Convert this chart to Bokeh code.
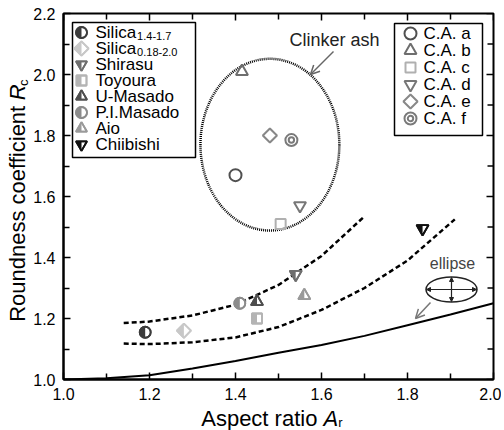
import math
from bokeh.plotting import figure
from bokeh.layouts import row, column
from bokeh.models import (Range1d, FixedTicker, NumeralTickFormatter, Arrow, OpenHead, NormalHead)
from bokeh.core.properties import value
from bokeh.embed import file_html
from bokeh.resources import INLINE

FONT = "Liberation Sans"

# ---------------- data ----------------
x_ticks = [1.0, 1.2, 1.4, 1.6, 1.8, 2.0]
x_minor = [1.1, 1.3, 1.5, 1.7, 1.9]
x_tick_labels = ["1.0", "1.2", "1.4", "1.6", "1.8", "2.0"]
y_ticks = [1.0, 1.2, 1.4, 1.6, 1.8, 2.0, 2.2]
y_minor = [1.1, 1.3, 1.5, 1.7, 1.9, 2.1]
y_tick_labels = ["1.0", "1.2", "1.4", "1.6", "1.8", "2.0", "2.2"]

sample_names = ["Silica", "Silica", "Shirasu", "Toyoura", "U-Masado", "P.I.Masado", "Aio", "Chiibishi"]
sample_subscripts = ["1.4-1.7", "0.18-2.0", "", "", "", "", "", ""]
sample_ar = [1.19, 1.28, 1.54, 1.45, 1.45, 1.41, 1.56, 1.835]
sample_rc = [1.155, 1.16, 1.345, 1.20, 1.255, 1.25, 1.275, 1.495]

ca_names = ["C.A. a", "C.A. b", "C.A. c", "C.A. d", "C.A. e", "C.A. f"]
ca_ar = [1.40, 1.415, 1.505, 1.55, 1.48, 1.53]
ca_rc = [1.67, 2.01, 1.51, 1.57, 1.80, 1.785]

ellipse_ar = [1.0, 1.1, 1.2, 1.3, 1.4, 1.5, 1.6, 1.7, 1.8, 1.9, 2.0]
ellipse_rc = [1.0, 1.004, 1.014, 1.036, 1.061, 1.088, 1.113, 1.143, 1.178, 1.213, 1.25]

upper_ar = [1.14, 1.2, 1.3, 1.4, 1.5, 1.6, 1.7]
upper_rc = [1.185, 1.19, 1.21, 1.245, 1.31, 1.405, 1.535]
lower_ar = [1.14, 1.2, 1.3, 1.4, 1.5, 1.6, 1.7, 1.8, 1.91]
lower_rc = [1.118, 1.116, 1.122, 1.138, 1.172, 1.228, 1.30, 1.39, 1.525]

clinker_center = [1.48, 1.77]
clinker_size = [0.323, 0.563]

x_title = ["Aspect ratio", "A", "r"]
y_title = ["Roundness coefficient", "R", "c"]

# ---------------- styles ----------------
sample_markers = ["circle", "diamond", "inverted_triangle", "square", "triangle", "circle", "triangle", "inverted_triangle"]
sample_colors = ["#3c3c3c", "#c8c8c8", "#6e6e6e", "#b4b4b4", "#4e4e4e", "#8c8c8c", "#9a9a9a", "#111111"]
sample_sizes = [11, 10, 12, 10, 12, 11, 12, 12]
ca_markers = ["circle", "triangle", "square", "inverted_triangle", "diamond", "circle"]
ca_colors = ["#505050", "#6e6e6e", "#b0b0b0", "#777777", "#888888", "#7a7a7a"]
ca_sizes = [12, 12, 10, 12, 10, 12]

X0, X1, Y0, Y1 = 1.0, 2.0, 1.0, 2.2
FRAME_W, FRAME_H = 430, 366
YT_W = 30                     # width of the y-title strip
B_LEFT, B_TOP, B_RIGHT, B_BOTTOM = 31, 13, 8, 26
LEFT, TOP = YT_W + B_LEFT, B_TOP          # frame origin on the page
MAIN_W = B_LEFT + FRAME_W + B_RIGHT
MAIN_H = B_TOP + FRAME_H + B_BOTTOM
TOTAL_W = YT_W + MAIN_W
XT_H = 430 - MAIN_H
PX_X = (X1 - X0) / FRAME_W
PX_Y = (Y1 - Y0) / FRAME_H


def xd(page_x):
    return X0 + (page_x - LEFT) * PX_X


def yd(page_y):
    return Y1 - (page_y - TOP) * PX_Y


W = {'A': 667, 'R': 722, 'C': 722, 'S': 667, 'a': 556, 'c': 500, 'd': 556, 'e': 556,
     'f': 278, 'i': 222, 'l': 222, 'n': 556, 'o': 556, 'p': 556, 'r': 333, 's': 500,
     't': 278, 'u': 556, ' ': 278, '.': 278, '-': 333}


def tw(s, size):
    return sum(W.get(ch, 556) for ch in s) * size / 1000.0


p = figure(frame_width=FRAME_W, frame_height=FRAME_H,
           x_range=Range1d(X0, X1), y_range=Range1d(Y0, Y1),
           output_backend="svg", toolbar_location=None,
           min_border_left=B_LEFT, min_border_top=B_TOP, min_border_right=B_RIGHT,
           min_border_bottom=B_BOTTOM)
p.xgrid.visible = False
p.ygrid.visible = False
p.outline_line_color = "black"
p.outline_line_width = 2
p.background_fill_color = "white"
p.border_fill_color = "white"


def style_axis(ax, ticks, minor, labels, standoff):
    ax.ticker = FixedTicker(ticks=ticks, minor_ticks=minor)
    ax.formatter = NumeralTickFormatter(format="0.0")
    ax.major_label_overrides = {t: l for t, l in zip(ticks, labels)}
    ax.axis_line_width = 2
    ax.axis_line_color = "black"
    ax.major_tick_in = 7
    ax.major_tick_out = 0
    ax.minor_tick_in = 6
    ax.minor_tick_out = 0
    ax.major_tick_line_width = 1.5
    ax.minor_tick_line_width = 1.5
    ax.major_tick_line_color = "black"
    ax.minor_tick_line_color = "black"
    ax.major_label_text_font = FONT
    ax.major_label_text_color = "black"
    ax.major_label_text_font_size = "16px"
    ax.major_label_standoff = standoff


style_axis(p.xaxis[0], x_ticks, x_minor, x_tick_labels, 8)
style_axis(p.yaxis[0], y_ticks, y_minor, y_tick_labels, 8)

# mirrored inward ticks on top and right edges
for ticks, ln in ((x_ticks, 7), (x_minor, 6)):
    p.segment(x0=ticks, y0=[Y1] * len(ticks), x1=ticks, y1=[Y1 - ln * PX_Y] * len(ticks),
              line_color="black", line_width=1.5)
for ticks, ln in ((y_ticks, 7), (y_minor, 6)):
    p.segment(x0=[X1] * len(ticks), y0=ticks, x1=[X1 - ln * PX_X] * len(ticks), y1=ticks,
              line_color="black", line_width=1.5)

# ---------------- curves ----------------
p.line(ellipse_ar, ellipse_rc, line_color="black", line_width=2)
p.line(upper_ar, upper_rc, line_color="black", line_width=2.5, line_dash="5 3")
p.line(lower_ar, lower_rc, line_color="black", line_width=2.5, line_dash="5 3")
p.ellipse(x=[clinker_center[0]], y=[clinker_center[1]], width=[clinker_size[0]], height=[clinker_size[1]],
          fill_color=None, line_color="black", line_width=2.5, line_dash="1 1")

# ---------------- marker helpers ----------------
SQ3 = math.sqrt(3)
LW = 1.8


def marker_kw(marker):
    # diamonds drawn as squares turned by 45 degrees (equal width and height)
    if marker == "diamond":
        return dict(marker="square", angle=math.pi / 4)
    return dict(marker=marker)


def left_half(marker, size):
    r = size / 2.0
    a = r * SQ3 / 3.0
    if marker == "triangle":
        return [(-r, a), (0, a), (0, -2 * a)]
    if marker == "inverted_triangle":
        return [(-r, -a), (0, -a), (0, 2 * a)]
    if marker == "square":
        return [(-r, -r), (0, -r), (0, r), (-r, r)]
    if marker == "diamond":
        d = r * math.sqrt(2)
        return [(0, -d), (-d, 0), (0, d)]
    return []


def half_marker(x, y, marker, size, color):
    kw = marker_kw(marker)
    p.scatter([x], [y], size=size, fill_color="white", line_color=color, line_width=LW, **kw)
    if marker == "circle":
        p.wedge([x], [y], radius=size / 2.0, radius_units="screen", start_angle=math.pi / 2,
                end_angle=3 * math.pi / 2, fill_color=color, line_color=None)
    else:
        pts = left_half(marker, size)
        p.patch([x + ox * PX_X for ox, oy in pts], [y - oy * PX_Y for ox, oy in pts],
                fill_color=color, line_color=None)
    p.scatter([x], [y], size=size, fill_color=None, line_color=color, line_width=LW, **kw)


def hollow_marker(x, y, marker, size, color, double=False):
    p.scatter([x], [y], size=size, fill_color=None, line_color=color, line_width=2, **marker_kw(marker))
    if double:
        p.scatter([x], [y], marker="circle", size=size * 0.45, fill_color=None, line_color=color, line_width=2)


# ---------------- data points ----------------
for x, y, m, s, c in zip(sample_ar, sample_rc, sample_markers, sample_sizes, sample_colors):
    half_marker(x, y, m, s, c)
for i, (x, y, m, s, c) in enumerate(zip(ca_ar, ca_rc, ca_markers, ca_sizes, ca_colors)):
    hollow_marker(x, y, m, s, c, double=(i == 5))

# ---------------- legends ----------------
LEG_FS = 17
SUB_FS = 11
p.quad(left=[xd(70)], right=[xd(193)], top=[yd(22)], bottom=[yd(157)],
       fill_color="white", line_color="black", line_width=1.5)
rows1 = [32 + 16 * i for i in range(len(sample_names))]
for m, s, c, ry in zip(sample_markers, sample_sizes, sample_colors, rows1):
    half_marker(xd(79), yd(ry), m, min(s, 11), c)
tx1 = 93
p.text(x=[xd(tx1)] * len(sample_names), y=[yd(ry) for ry in rows1], text=sample_names,
       text_font=value(FONT), text_font_size=value("%dpx" % LEG_FS), text_color="black",
       text_baseline="middle", text_align="left")
sub_x, sub_y, sub_t = [], [], []
for name, sub, ry in zip(sample_names, sample_subscripts, rows1):
    if sub:
        sub_x.append(xd(tx1 + tw(name, LEG_FS) + 1))
        sub_y.append(yd(ry + 3))
        sub_t.append(sub)
p.text(x=sub_x, y=sub_y, text=sub_t, text_font=value(FONT), text_font_size=value("%dpx" % SUB_FS),
       text_color="black", text_baseline="middle", text_align="left")

p.quad(left=[xd(392)], right=[xd(480)], top=[yd(23)], bottom=[yd(135)],
       fill_color="white", line_color="black", line_width=1.5)
rows2 = [33 + 17 * i for i in range(len(ca_names))]
for i, (m, s, c, ry) in enumerate(zip(ca_markers, ca_sizes, ca_colors, rows2)):
    hollow_marker(xd(408), yd(ry), m, min(s, 12), c, double=(i == 5))
p.text(x=[xd(421)] * len(ca_names), y=[yd(ry) for ry in rows2], text=ca_names,
       text_font=value(FONT), text_font_size=value("%dpx" % LEG_FS), text_color="black",
       text_baseline="middle", text_align="left")

# ---------------- annotations ----------------
p.text(x=[xd(287)], y=[yd(39)], text=["Clinker ash"], text_font=value(FONT),
       text_font_size=value("18px"), text_color="#222222", text_baseline="middle", text_align="left")
p.add_layout(Arrow(end=OpenHead(size=9, line_color="#666666", line_width=1.5),
                   x_start=xd(331), y_start=yd(51), x_end=xd(308), y_end=yd(74),
                   line_color="#666666", line_width=1.5))

p.text(x=[xd(450)], y=[yd(263)], text=["ellipse"], text_font=value(FONT),
       text_font_size=value("16px"), text_color="#444444", text_baseline="middle", text_align="center")
icx, icy = xd(449), yd(289)
p.ellipse(x=[icx], y=[icy], width=[51 * PX_X], height=[25 * PX_Y], fill_color=None,
          line_color="#222222", line_width=1.5)
for xs, ys, xe, ye in ((icx, icy - 12 * PX_Y, icx, icy + 12 * PX_Y),
                       (icx - 25 * PX_X, icy, icx + 25 * PX_X, icy)):
    p.add_layout(Arrow(start=NormalHead(size=4, fill_color="#222222", line_color="#222222"),
                       end=NormalHead(size=4, fill_color="#222222", line_color="#222222"),
                       x_start=xs, y_start=ys, x_end=xe, y_end=ye,
                       line_color="#222222", line_width=1.2))
p.add_layout(Arrow(end=OpenHead(size=9, line_color="#777777", line_width=1.5),
                   x_start=xd(428), y_start=yd(302), x_end=xd(413), y_end=yd(318),
                   line_color="#777777", line_width=1.5))

# ---------------- axis titles (separate strips) ----------------
TFS = 22
SFS = 13


def strip(w, h, xr, yr):
    f = figure(width=w, height=h, x_range=xr, y_range=yr, output_backend="svg",
               toolbar_location=None, min_border=0, x_axis_location=None, y_axis_location=None)
    f.grid.visible = False
    f.outline_line_color = None
    f.background_fill_color = "white"
    f.border_fill_color = "white"
    return f


fs_list = ["%dpx" % TFS, "%dpx" % TFS, "%dpx" % SFS]
styles = ["normal", "italic", "normal"]
aligns = ["right", "left", "left"]
gap = tw(" ", TFS)

# y title strip: data coords == page px (rotated, reading upward)
pyt = strip(YT_W, MAIN_H, Range1d(0, YT_W), Range1d(MAIN_H, 0))
vR = tw(y_title[1], TFS)
yR = 96                                   # where the italic R starts (page y)
pyt.text(x=[17.4, 17.4, 22.5], y=[yR + gap, yR, yR - vR], text=y_title, angle=math.pi / 2,
         text_font=value(FONT), text_font_size=fs_list, text_font_style=styles,
         text_color="black", text_align=aligns, text_baseline="middle")

# x title strip
pxt = strip(TOTAL_W, XT_H, Range1d(0, TOTAL_W), Range1d(430, MAIN_H))
wA = tw(x_title[1], TFS)
xA = 323                                  # where the italic A starts (page x)
pxt.text(x=[xA - gap, xA, xA + wA], y=[417.5, 417.5, 421.5], text=x_title,
         text_font=value(FONT), text_font_size=fs_list, text_font_style=styles,
         text_color="black", text_align=aligns, text_baseline="middle")

layout = column(row(pyt, p), pxt)
open("out.html", "w").write(file_html(layout, INLINE))
